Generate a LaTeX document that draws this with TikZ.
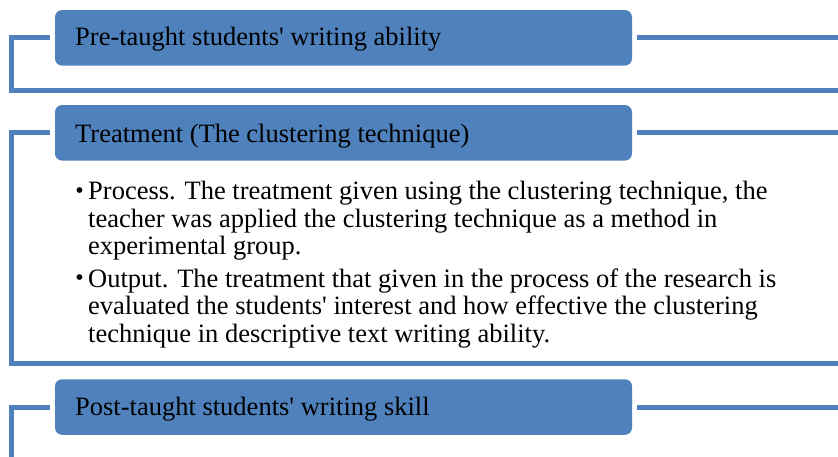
\documentclass[tikz,border=0pt]{standalone}
\usepackage{fontspec}
\setmainfont{Liberation Serif}
\definecolor{officeblue}{HTML}{4F81BD}
\newcommand\itemdot{\llap{\raisebox{1.5pt}{\fontsize{24}{24}\selectfont\textbullet}\hspace{4.5pt}}}
\newcommand\apos{\textquotesingle}
\begin{document}
\begin{tikzpicture}[x=1pt,y=-1pt,
  header/.style={fill=officeblue, draw=none, rounded corners=7pt,
    minimum width=577pt, minimum height=55.5pt, inner sep=0pt},
  headtext/.style={anchor=base west, inner sep=0pt,
    font=\fontsize{26.5}{27.3}\selectfont},
  bodytext/.style={anchor=base west, inner sep=0pt, align=left,
    font=\fontsize{26.5}{27.3}\selectfont},
  frame/.style={draw=officeblue, line width=5pt, line join=miter}]
\useasboundingbox (0,0) rectangle (838,456);
\clip (0,0) rectangle (838,456);

% header boxes
\node[header] (h1) at (343.5,37.8) {};
\node[header] (h2) at (343.5,132.8) {};
\node[header] (h3) at (343.5,407) {};

% frames around each section
\draw[frame] ([xshift=-5pt]h1.west) -- (11,37.8) -- (11,90.5) -- (850,90.5);
\draw[frame] ([xshift=5pt]h1.east) -- (850,37.8);
\draw[frame] ([xshift=-5pt]h2.west) -- (11,132.8) -- (11,363) -- (850,363);
\draw[frame] ([xshift=5pt]h2.east) -- (850,132.8);
\draw[frame] ([xshift=-5pt]h3.west) -- (11,407) -- (11,470);
\draw[frame] ([xshift=5pt]h3.east) -- (850,407);

% header texts
\node[headtext] (t1) at (75,45) {Pre-taught students\apos{} writing ability};
\node[headtext] (t2) at (75,142.5) {Treatment (The clustering technique)};
\node[headtext] (t3) at (75,415) {Post-taught students\apos{} writing skill};

% treatment details (anchored at the baseline of the last line)
\node[bodytext] (p1) at (88,254.5) {\itemdot Process. The treatment given using the clustering technique, the\\
teacher was applied the clustering technique as a method in\\
experimental group.};
\node[bodytext] (p2) at (88,342) {\itemdot Output. The treatment that given in the process of the research is\\
evaluated the students\apos{} interest and how effective the clustering\\
technique in descriptive text writing ability.};
\end{tikzpicture}
\end{document}
